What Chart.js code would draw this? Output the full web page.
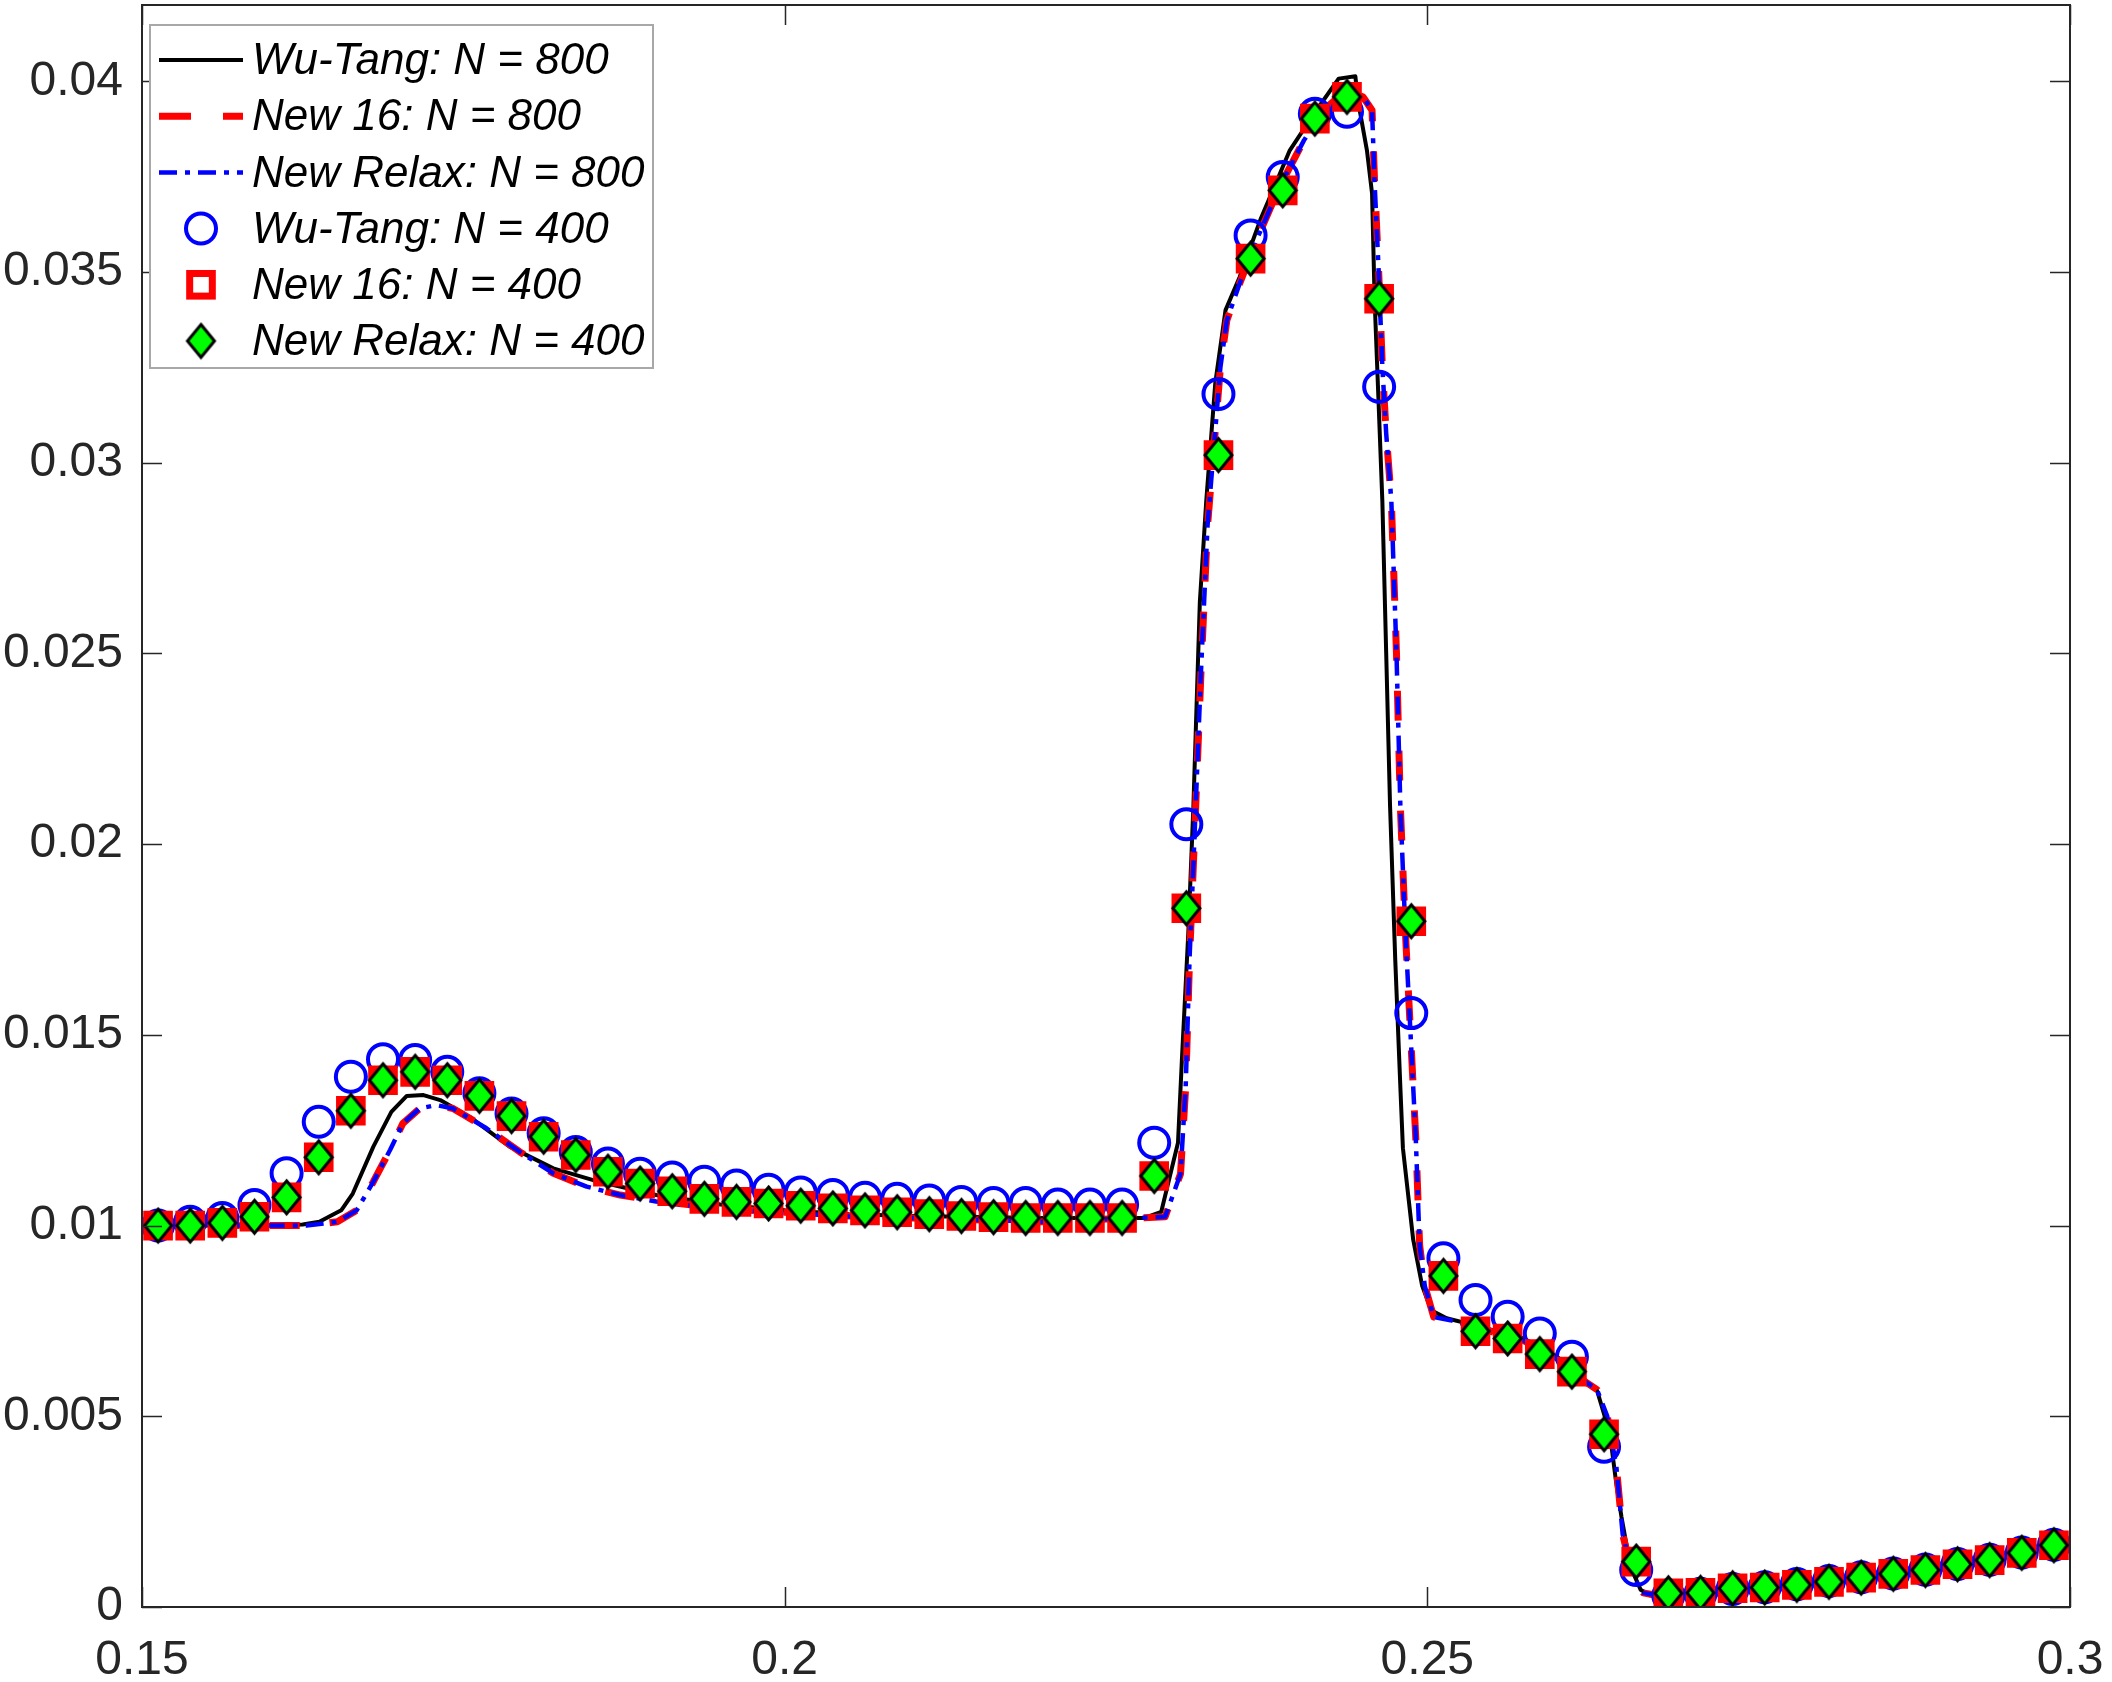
<!DOCTYPE html>
<html>
<head>
<meta charset="utf-8">
<script src="https://cdn.jsdelivr.net/npm/chart.js@4.4.1/dist/chart.umd.min.js"></script>
<style>
  html, body { margin: 0; padding: 0; background: #fff; }
  #wrap { width: 2112px; height: 1682px; }
</style>
</head>
<body>
<div id="wrap"><canvas id="chart" width="2112" height="1682"></canvas></div>
<script>
// ===== Data =====
const xTicks = [0.15, 0.2, 0.25, 0.3];
const xTickLabels = ['0.15', '0.2', '0.25', '0.3'];
const yTicks = [0, 0.005, 0.01, 0.015, 0.02, 0.025, 0.03, 0.035, 0.04];
const yTickLabels = ['0', '0.005', '0.01', '0.015', '0.02', '0.025', '0.03', '0.035', '0.04'];

// N = 800 solutions (lines)
const wuTang800X = [0.1506, 0.155, 0.16, 0.1625, 0.1638, 0.1655, 0.1664, 0.168, 0.1694, 0.1706,
  0.1719, 0.1732, 0.1755, 0.1786, 0.182, 0.1851, 0.19, 0.195, 0.2, 0.205,
  0.21, 0.22, 0.228, 0.2293, 0.2306, 0.2309, 0.2314, 0.2318, 0.2323, 0.2328,
  0.2335, 0.2343, 0.2354, 0.237, 0.2393, 0.2411, 0.2431, 0.2444, 0.2446, 0.2453,
  0.2457, 0.2459, 0.2462, 0.2465, 0.2468, 0.2471, 0.2475, 0.2479, 0.2481, 0.2489,
  0.2496, 0.2503, 0.2515, 0.2541, 0.2575, 0.2601, 0.2624, 0.2632, 0.2642, 0.2647,
  0.2651, 0.2658, 0.2666, 0.2673, 0.2684, 0.27, 0.275, 0.28, 0.285, 0.29,
  0.295, 0.2994];
const wuTang800Y = [0.0100, 0.0100, 0.0100, 0.01003, 0.0101, 0.0104, 0.01084, 0.01207, 0.01298, 0.0134,
  0.01342, 0.01329, 0.01285, 0.01207, 0.0115, 0.01119, 0.0108, 0.01055, 0.0104, 0.0103,
  0.01025, 0.0102, 0.0102, 0.01036, 0.01217, 0.01431, 0.01765, 0.021, 0.02634, 0.029,
  0.03208, 0.034, 0.03487, 0.03636, 0.03819, 0.03911, 0.04007, 0.04013, 0.0395, 0.03819,
  0.03706, 0.03426, 0.03164, 0.029, 0.025, 0.021, 0.017, 0.01364, 0.01203, 0.00963,
  0.00842, 0.00778, 0.00757, 0.00735, 0.00704, 0.00656, 0.0059, 0.00568, 0.00455, 0.00324,
  0.00237, 0.00106, 0.00045, 0.00031, 0.00027, 0.0003, 0.00045, 0.00062, 0.0008, 0.0011,
  0.0014, 0.0017];

const new16_800X = [0.1506, 0.155, 0.16, 0.1628, 0.1652, 0.1667, 0.168, 0.1693, 0.1703, 0.1716,
  0.1729, 0.1742, 0.1768, 0.1794, 0.182, 0.1846, 0.1872, 0.19, 0.195, 0.2,
  0.205, 0.21, 0.22, 0.2296, 0.2308, 0.2312, 0.2315, 0.2319, 0.2324, 0.2329,
  0.2339, 0.2344, 0.2354, 0.2367, 0.2385, 0.2404, 0.2419, 0.2437, 0.245, 0.2457,
  0.2459, 0.2462, 0.2465, 0.2468, 0.2472, 0.2476, 0.2479, 0.2483, 0.2487, 0.2491,
  0.2494, 0.2498, 0.2505, 0.2518, 0.2541, 0.2574, 0.2598, 0.2621, 0.2632, 0.264,
  0.2647, 0.2652, 0.266, 0.2668, 0.2679, 0.27, 0.275, 0.28, 0.285, 0.29,
  0.295, 0.2994];
const new16_800Y = [0.0100, 0.0100, 0.0100, 0.0100, 0.0101, 0.0104, 0.01115, 0.01198, 0.01268, 0.01307,
  0.01316, 0.01307, 0.01255, 0.01193, 0.01137, 0.01102, 0.0108, 0.01065, 0.01045, 0.01035,
  0.01025, 0.0102, 0.0101, 0.01023, 0.01136, 0.01364, 0.01699, 0.02032, 0.0246, 0.02835,
  0.0325, 0.03373, 0.0347, 0.03583, 0.03723, 0.03845, 0.03924, 0.03977, 0.03959, 0.03924,
  0.03732, 0.03513, 0.03251, 0.03076, 0.029, 0.025, 0.021, 0.01765, 0.01498, 0.0123,
  0.00949, 0.00842, 0.0076, 0.00752, 0.0073, 0.0070, 0.00656, 0.00595, 0.0057, 0.005,
  0.0037, 0.0019, 0.0008, 0.00037, 0.0003, 0.0003, 0.00045, 0.00062, 0.0008, 0.0011,
  0.0014, 0.0017];

const relax800X = [0.1506, 0.155, 0.16, 0.1628, 0.1652, 0.1667, 0.168, 0.1693, 0.1703, 0.1716,
  0.1729, 0.1742, 0.1768, 0.1794, 0.182, 0.1846, 0.1872, 0.19, 0.195, 0.2,
  0.205, 0.21, 0.22, 0.2296, 0.2308, 0.2312, 0.2315, 0.2319, 0.2324, 0.2329,
  0.2339, 0.2344, 0.2354, 0.2367, 0.2385, 0.2404, 0.2419, 0.2437, 0.245, 0.2457,
  0.2459, 0.2462, 0.2465, 0.2468, 0.2472, 0.2476, 0.2479, 0.2483, 0.2487, 0.2491,
  0.2494, 0.2498, 0.2505, 0.2518, 0.2541, 0.2574, 0.2598, 0.2621, 0.2632, 0.264,
  0.2647, 0.2652, 0.266, 0.2668, 0.2679, 0.27, 0.275, 0.28, 0.285, 0.29,
  0.295, 0.2994];
const relax800Y = [0.0100, 0.0100, 0.0100, 0.0100, 0.0101, 0.0104, 0.01115, 0.01198, 0.01268, 0.01307,
  0.01316, 0.01307, 0.01255, 0.01193, 0.01137, 0.01102, 0.0108, 0.01063, 0.01043, 0.01033,
  0.01024, 0.0102, 0.0101, 0.01023, 0.01136, 0.01364, 0.01699, 0.02032, 0.0246, 0.02835,
  0.0325, 0.03373, 0.0347, 0.03583, 0.03723, 0.03845, 0.03924, 0.03977, 0.03959, 0.03924,
  0.03732, 0.03513, 0.03251, 0.03076, 0.029, 0.025, 0.021, 0.01765, 0.01498, 0.0123,
  0.00949, 0.00842, 0.0076, 0.00752, 0.0073, 0.0070, 0.00656, 0.00595, 0.0057, 0.005,
  0.0037, 0.0019, 0.0008, 0.00037, 0.0003, 0.0003, 0.00045, 0.00062, 0.0008, 0.0011,
  0.0014, 0.0017];

// N = 400 solutions (markers)
const cells400X = [0.15125, 0.15375, 0.15625, 0.15875, 0.16125, 0.16375, 0.16625, 0.16875, 0.17125, 0.17375,
  0.17625, 0.17875, 0.18125, 0.18375, 0.18625, 0.18875, 0.19125, 0.19375, 0.19625, 0.19875,
  0.20125, 0.20375, 0.20625, 0.20875, 0.21125, 0.21375, 0.21625, 0.21875, 0.22125, 0.22375,
  0.22625, 0.22875, 0.23125, 0.23375, 0.23625, 0.23875, 0.24125, 0.24375, 0.24625, 0.24875,
  0.25125, 0.25375, 0.25625, 0.25875, 0.26125, 0.26375, 0.26625, 0.26875, 0.27125, 0.27375,
  0.27625, 0.27875, 0.28125, 0.28375, 0.28625, 0.28875, 0.29125, 0.29375, 0.29625, 0.29875];
const wuTang400Y = [0.0100, 0.0101, 0.0102, 0.01054, 0.01137, 0.01272, 0.0139, 0.01436, 0.01434, 0.01403,
  0.01347, 0.01294, 0.01242, 0.01193, 0.01163, 0.01136, 0.01126, 0.01115, 0.01105, 0.01094,
  0.01087, 0.0108, 0.01073, 0.0107, 0.01066, 0.01062, 0.01059, 0.01059, 0.01055, 0.01055,
  0.01055, 0.01217, 0.02052, 0.0318, 0.03596, 0.03749, 0.03915, 0.0392, 0.03199, 0.01557,
  0.00914, 0.00805, 0.00761, 0.00717, 0.00656, 0.0042, 0.00097, 0.0003, 0.00035, 0.00047,
  0.00052, 0.0006, 0.00068, 0.00078, 0.00088, 0.00098, 0.00113, 0.00124, 0.00143, 0.00163];
const new16_400Y = [0.0100, 0.0100, 0.01007, 0.01023, 0.01074, 0.01179, 0.01301, 0.01381, 0.01403, 0.01381,
  0.0134, 0.01287, 0.01233, 0.01185, 0.01141, 0.0111, 0.0109, 0.0107, 0.01062, 0.01058,
  0.01052, 0.01045, 0.0104, 0.01035, 0.0103, 0.01025, 0.01022, 0.0102, 0.0102, 0.0102,
  0.0102, 0.0113, 0.01832, 0.0302, 0.03535, 0.03714, 0.03902, 0.03959, 0.0343, 0.01798,
  0.00868, 0.00723, 0.00704, 0.00663, 0.00617, 0.00453, 0.00119, 0.00036, 0.00037, 0.00049,
  0.00051, 0.00058, 0.00066, 0.00077, 0.00087, 0.00097, 0.00112, 0.00123, 0.00142, 0.00162];
const relax400Y = [0.0100, 0.0100, 0.01007, 0.01023, 0.01074, 0.01179, 0.01301, 0.01381, 0.01403, 0.01381,
  0.0134, 0.01287, 0.01233, 0.01185, 0.01141, 0.0111, 0.0109, 0.0107, 0.01062, 0.01058,
  0.01052, 0.01045, 0.0104, 0.01035, 0.0103, 0.01025, 0.01022, 0.0102, 0.0102, 0.0102,
  0.0102, 0.0113, 0.01832, 0.0302, 0.03535, 0.03714, 0.03902, 0.03959, 0.0343, 0.01798,
  0.00868, 0.00723, 0.00704, 0.00663, 0.00617, 0.00453, 0.00119, 0.00036, 0.00037, 0.00049,
  0.00051, 0.00058, 0.00066, 0.00077, 0.00087, 0.00097, 0.00112, 0.00123, 0.00142, 0.00162];

const seriesLabels = ['Wu-Tang: N = 800', 'New 16: N = 800', 'New Relax: N = 800',
  'Wu-Tang: N = 400', 'New 16: N = 400', 'New Relax: N = 400'];

// ===== Helpers =====
function toPoints(xs, ys) {
    return xs.map((x, i) => ({ x: x, y: ys[i] }));
}

// tall green diamond with black edge (MATLAB 'd' marker)
function makeDiamond(w, h) {
    const c = document.createElement('canvas');
    c.width = w + 6; c.height = h + 6;
    const g = c.getContext('2d');
    const cx = c.width / 2, cy = c.height / 2;
    g.beginPath();
    g.moveTo(cx, cy - h / 2);
    g.lineTo(cx + w / 2, cy);
    g.lineTo(cx, cy + h / 2);
    g.lineTo(cx - w / 2, cy);
    g.closePath();
    g.fillStyle = '#00ff00';
    g.fill();
    g.lineWidth = 3;
    g.lineJoin = 'miter';
    g.strokeStyle = '#000';
    g.stroke();
    return c;
}
const diamondImg = makeDiamond(27, 33);

const AXIS_COLOR = '#262626';
const FONT = '"Liberation Sans", Arial, Helvetica, sans-serif';

// ===== Axes box, inward ticks and legend =====
const matlabAxes = {
    id: 'matlabAxes',
    afterDatasetsDraw(chart) {
        const ctx = chart.ctx;
        const a = chart.chartArea;
        const xs = chart.scales.x, ys = chart.scales.y;
        ctx.save();
        ctx.strokeStyle = AXIS_COLOR;
        ctx.lineWidth = 2;
        ctx.strokeRect(a.left, a.top, a.right - a.left, a.bottom - a.top);
        ctx.beginPath();
        const tl = 20;
        xTicks.forEach(v => {
            const px = Math.round(xs.getPixelForValue(v)) + 0.5;
            ctx.moveTo(px, a.bottom); ctx.lineTo(px, a.bottom - tl);
            ctx.moveTo(px, a.top); ctx.lineTo(px, a.top + tl);
        });
        yTicks.forEach(v => {
            const py = Math.round(ys.getPixelForValue(v)) + 0.5;
            ctx.moveTo(a.left, py); ctx.lineTo(a.left + tl, py);
            ctx.moveTo(a.right, py); ctx.lineTo(a.right - tl, py);
        });
        ctx.lineWidth = 1.5;
        ctx.stroke();
        ctx.restore();
    },
    afterDraw(chart) {
        const ctx = chart.ctx;
        const ds = chart.data.datasets;
        const box = { left: 150, top: 25, right: 653, bottom: 368 };
        ctx.save();
        ctx.fillStyle = '#fff';
        ctx.fillRect(box.left, box.top, box.right - box.left, box.bottom - box.top);
        ctx.strokeStyle = '#a8a8a8';
        ctx.lineWidth = 2;
        ctx.strokeRect(box.left, box.top, box.right - box.left, box.bottom - box.top);

        const rowY0 = 60, rowH = 56.2;
        const lineX0 = 159, lineX1 = 243, mx = 201, textX = 252;
        ctx.font = 'italic 44px ' + FONT;
        ctx.textBaseline = 'middle';
        ctx.textAlign = 'left';
        seriesLabels.forEach((label, i) => {
            const y = rowY0 + i * rowH;
            const d = ds[i];
            if (i < 3) {
                ctx.save();
                ctx.beginPath();
                ctx.strokeStyle = d.borderColor;
                ctx.lineWidth = d.borderWidth;
                ctx.setLineDash(i === 1 ? [32, 32] : (d.borderDash || []));
                ctx.moveTo(lineX0, y); ctx.lineTo(lineX1, y);
                ctx.stroke();
                ctx.restore();
            } else if (i === 3) {
                ctx.beginPath();
                ctx.arc(mx, y, d.pointRadius, 0, Math.PI * 2);
                ctx.strokeStyle = d.borderColor;
                ctx.lineWidth = d.borderWidth;
                ctx.stroke();
            } else if (i === 4) {
                const s = d.pointRadius * Math.SQRT1_2;
                ctx.strokeStyle = d.borderColor;
                ctx.lineWidth = d.borderWidth;
                ctx.strokeRect(mx - s, y - s, 2 * s, 2 * s);
            } else {
                ctx.drawImage(diamondImg, mx - diamondImg.width / 2, y - diamondImg.height / 2);
            }
            ctx.fillStyle = '#000';
            ctx.fillText(label, textX, y + 2);
        });
        ctx.restore();
    }
};

// ===== Chart =====
const ctx = document.getElementById('chart').getContext('2d');
new Chart(ctx, {
    type: 'scatter',
    data: {
        datasets: [
            {
                label: seriesLabels[0], data: toPoints(wuTang800X, wuTang800Y),
                showLine: true, pointRadius: 0, borderColor: '#000000', borderWidth: 4,
                borderJoinStyle: 'round', order: 7
            },
            {
                label: seriesLabels[1], data: toPoints(new16_800X, new16_800Y),
                showLine: true, pointRadius: 0, borderColor: '#ff0000', borderWidth: 7,
                borderDash: [30, 30], borderJoinStyle: 'round', order: 6
            },
            {
                label: seriesLabels[2], data: toPoints(relax800X, relax800Y),
                showLine: true, pointRadius: 0, borderColor: '#0000ff', borderWidth: 4.5,
                borderDash: [18, 8, 5, 8], borderJoinStyle: 'round', order: 5
            },
            {
                label: seriesLabels[3], data: toPoints(cells400X, wuTang400Y),
                showLine: false, pointStyle: 'circle', pointRadius: 15, borderColor: '#0000ff',
                backgroundColor: 'rgba(0,0,0,0)', borderWidth: 4, order: 4
            },
            {
                label: seriesLabels[4], data: toPoints(cells400X, new16_400Y),
                showLine: false, pointStyle: 'rect', pointRadius: 16, borderColor: '#ff0000',
                backgroundColor: 'rgba(0,0,0,0)', borderWidth: 7, order: 3
            },
            {
                label: seriesLabels[5], data: toPoints(cells400X, relax400Y),
                showLine: false, pointStyle: diamondImg, pointRadius: 15, order: 2
            }
        ]
    },
    options: {
        responsive: false,
        animation: false,
        devicePixelRatio: 1,
        layout: { autoPadding: false, padding: { top: 5, right: 42, left: 0, bottom: 0 } },
        plugins: { legend: { display: false }, tooltip: { enabled: false } },
        scales: {
            x: {
                type: 'linear', min: 0.15, max: 0.3,
                grid: { display: false, drawTicks: false },
                border: { display: false },
                afterBuildTicks: s => { s.ticks = xTicks.map(v => ({ value: v })); },
                afterFit: s => { s.height = 75; s.paddingLeft = 0; s.paddingRight = 0; },
                ticks: {
                    color: AXIS_COLOR, padding: 25, maxRotation: 0,
                    font: { family: FONT, size: 48, lineHeight: 1.2 },
                    callback: (v) => xTickLabels[xTicks.indexOf(v)] ?? ''
                }
            },
            y: {
                type: 'linear', min: 0, max: 0.042,
                grid: { display: false, drawTicks: false },
                border: { display: false },
                afterBuildTicks: s => { s.ticks = yTicks.map(v => ({ value: v })); },
                afterFit: s => { s.width = 142; s.paddingTop = 0; s.paddingBottom = 0; },
                ticks: {
                    color: AXIS_COLOR, padding: 19,
                    font: { family: FONT, size: 48 },
                    callback: (v) => yTickLabels[yTicks.indexOf(v)] ?? ''
                }
            }
        }
    },
    plugins: [matlabAxes]
});
</script>
</body>
</html>
